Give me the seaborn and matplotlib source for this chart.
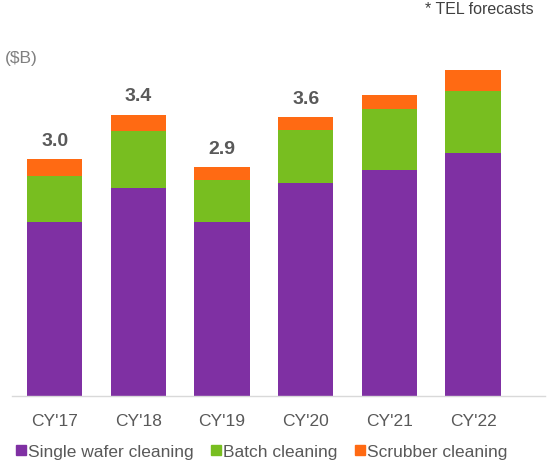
import numpy as np
import pandas as pd
import seaborn as sns
import matplotlib.pyplot as plt

# Data ($B)
years = ["CY'17", "CY'18", "CY'19", "CY'20", "CY'21", "CY'22"]
single_wafer = [2.20, 2.63, 2.20, 2.69, 2.85, 3.07]
batch = [0.58, 0.71, 0.53, 0.67, 0.77, 0.78]
scrubber = [0.21, 0.21, 0.16, 0.16, 0.18, 0.26]
total_labels = ["3.0", "3.4", "2.9", "3.6", "", ""]

series = ['Single wafer cleaning', 'Batch cleaning', 'Scrubber cleaning']
colors = {'Single wafer cleaning': '#7F30A3',
          'Batch cleaning': '#78BE20',
          'Scrubber cleaning': '#FF6A13'}

df = pd.DataFrame({'year': years,
                   'Single wafer cleaning': single_wafer,
                   'Batch cleaning': batch,
                   'Scrubber cleaning': scrubber})
# cumulative tops for stacking
df['cum1'] = df['Single wafer cleaning']
df['cum2'] = df['cum1'] + df['Batch cleaning']
df['cum3'] = df['cum2'] + df['Scrubber cleaning']

sns.set_style('white')
plt.rcParams['font.family'] = ['Liberation Sans', 'DejaVu Sans']

fig = plt.figure(figsize=(5.54, 4.70), dpi=100)
ax = fig.add_axes([12 / 554, 74 / 470, 533 / 554, 376 / 470])

# draw from the top segment down so each lower segment covers the one above
for col, name in [('cum3', 'Scrubber cleaning'), ('cum2', 'Batch cleaning'), ('cum1', 'Single wafer cleaning')]:
    sns.barplot(data=df, x='year', y=col, color=colors[name], width=0.66,
                saturation=1, linewidth=0, ax=ax)

for i, lab in enumerate(total_labels):
    if lab:
        ax.text(i, df['cum3'][i] + 0.12, lab, ha='center', va='bottom',
                fontsize=14, fontweight='bold', color='#595959')

ax.set_xlim(-0.51, 5.86)
ax.set_ylim(0, 376 / 79.2)
ax.set_xlabel('')
ax.set_ylabel('')
ax.set_yticks([])
ax.tick_params(axis='x', length=0, pad=13, labelsize=12.5, labelcolor='#595959')
for s in ['top', 'right', 'left']:
    ax.spines[s].set_visible(False)
ax.spines['bottom'].set_color('#D9D9D9')
ax.spines['bottom'].set_linewidth(1)

fig.text(5 / 554, 1 - 58 / 470, '($B)', fontsize=12.5, color='#808080', va='center', ha='left')
fig.text(534 / 554, 1 - 9 / 470, '* TEL forecasts', fontsize=11.5, color='#404040', va='center', ha='right')

# legend
handles = [plt.Line2D([], [], marker='s', linestyle='', markersize=7.5,
                      markerfacecolor=colors[n], markeredgecolor=colors[n]) for n in series]
fig.legend(handles, series, loc='center', bbox_to_anchor=(261 / 554, 1 - 452 / 470),
           ncol=3, frameon=False, fontsize=12.5, handletextpad=0.0, columnspacing=0.9,
           handlelength=0.8, labelcolor='#595959')

fig.savefig('out.png', dpi=100)
